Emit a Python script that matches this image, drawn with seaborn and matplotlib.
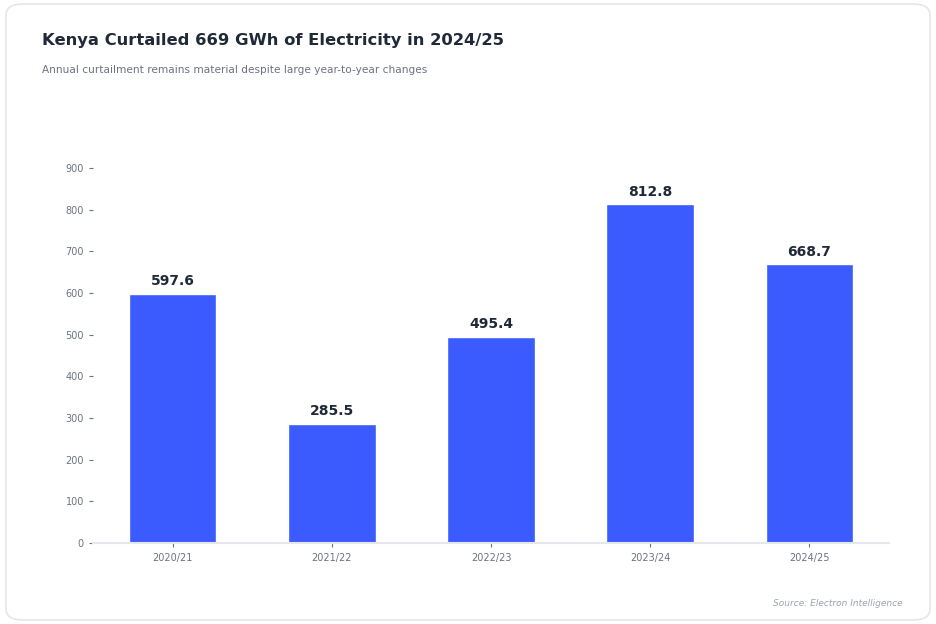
import matplotlib
matplotlib.use("Agg")
import matplotlib.pyplot as plt
from matplotlib.patches import FancyBboxPatch
import seaborn as sns
import pandas as pd

years = ["2020/21", "2021/22", "2022/23", "2023/24", "2024/25"]
curtailment_gwh = [597.6, 285.5, 495.4, 812.8, 668.7]
y_ticks = [0, 100, 200, 300, 400, 500, 600, 700, 800, 900]

title = "Kenya Curtailed 669 GWh of Electricity in 2024/25"
subtitle = "Annual curtailment remains material despite large year-to-year changes"
source = "Source: Electron Intelligence"

sns.set_theme(style="white")
plt.rcParams['font.family'] = ['DejaVu Sans']

df = pd.DataFrame({"year": years, "gwh": curtailment_gwh})

fig = plt.figure(figsize=(9.36, 6.24), dpi=100)
fig.patch.set_facecolor("white")

card = FancyBboxPatch((6 / 936, 4 / 624), 924 / 936, 616 / 624,
                      boxstyle="round,pad=0,rounding_size=0.018",
                      transform=fig.transFigure, facecolor="white",
                      edgecolor="#e5e7eb", linewidth=1.2, zorder=-10)
fig.patches.append(card)

ax = fig.add_axes([93 / 936, 81 / 624, 796 / 936, 0.641])
ax.set_zorder(1)
ax.set_facecolor("none")

sns.barplot(data=df, x="year", y="gwh", color="#3b5bff", width=0.55,
            saturation=1, ax=ax, zorder=2)

for i, v in enumerate(curtailment_gwh):
    ax.annotate(f"{v:.1f}", xy=(i, v), xytext=(0, 4), textcoords="offset points",
                ha="center", va="bottom", fontsize=10, fontweight="bold",
                color="#1f2937")

ax.set_xlim(-0.5, 4.5)
ax.set_ylim(0, 960)
ax.set_yticks(y_ticks)
ax.set_xlabel("")
ax.set_ylabel("")
for s in ["top", "right", "left"]:
    ax.spines[s].set_visible(False)
ax.spines["bottom"].set_color("#e5e7eb")
ax.spines["bottom"].set_linewidth(1.5)
ax.tick_params(axis="both", labelsize=7, colors="#6b7280", length=3, width=0.8,
               left=True, bottom=True)
ax.tick_params(axis="x", pad=4)
ax.grid(False)

fig.text(42 / 936, 1 - 41 / 624, title, fontsize=11.8, fontweight="bold",
         color="#1f2937", ha="left", va="center")
fig.text(42 / 936, 1 - 70 / 624, subtitle, fontsize=7.55, color="#6b7280",
         ha="left", va="center")
fig.text(903 / 936, 1 - 604 / 624, source, fontsize=6.5, style="italic",
         color="#9ca3af", ha="right", va="center")

fig.savefig("out.png", dpi=100, facecolor="white")
